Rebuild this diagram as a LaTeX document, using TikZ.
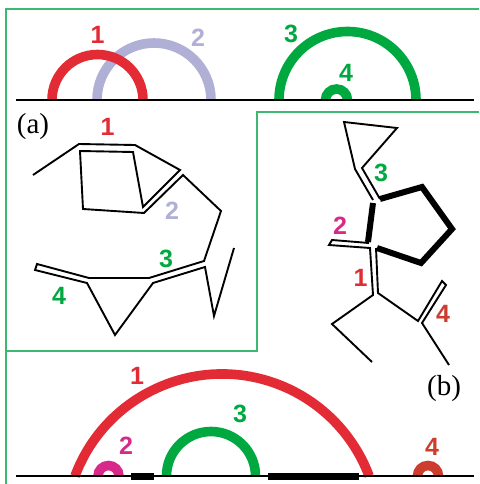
\documentclass[tikz,border=0pt]{standalone}
\usepackage{fontspec}
\setmainfont{Liberation Serif}
\newfontfamily\numfont{Liberation Sans}
\usetikzlibrary{positioning}
\definecolor{loopred}{HTML}{E32B35}
\definecolor{looplav}{HTML}{B0AFD6}
\definecolor{loopgreen}{HTML}{00A93F}
\definecolor{loopmagenta}{HTML}{D8288A}
\definecolor{loopbrown}{HTML}{CC3D2E}
\definecolor{framegreen}{HTML}{3CB870}
\tikzset{looparc/.style={line width=9.6pt},
  backbone/.style={line width=1.9pt, line join=miter},
  thickbond/.style={line width=6pt, line join=miter},
  baseline/.style={line width=1.9pt},
  framing/.style={draw=framegreen, line width=1.2pt},
  looplabel/.style={inner sep=0pt, font=\numfont\bfseries\fontsize{25}{25}\selectfont},
  panellabel/.style={inner sep=0pt, font=\fontsize{29}{29}\selectfont}}

\begin{document}
\begin{tikzpicture}[x=1pt, y=1pt]
    \useasboundingbox (0,-484) rectangle (479,0);
    \fill[white] (0,-484) rectangle (479,0);
    % frames
    \draw[framing] (479,-9) -- (6,-9) -- (6,-484);
    \draw[framing] (6,-351) -- (257,-351) -- (257,-112) -- (479,-112);
    % top arcs
    \draw[looparc, looplav] (97,-100) arc[start angle=180, end angle=0, radius=57];
    \draw[looparc, loopred] (52,-100) arc[start angle=180, end angle=0, radius=45.5];
    \draw[looparc, loopgreen] (279,-100) arc[start angle=180, end angle=0, radius=68.5];
    \draw[looparc, loopgreen] (325.5,-100) arc[start angle=180, end angle=0, radius=11];
    \coordinate (topl) at (16,-100);
    \coordinate (topr) at (474,-100);
    \draw[baseline] (topl) -- (topr);
    \node[looplabel, loopred] (t1) at (97.5,-35) {1};
    \node[looplabel, looplav] (t2) at (198,-38) {2};
    \node[looplabel, loopgreen] (t3) at (291,-34) {3};
    \node[looplabel, loopgreen] (t4) at (346,-73) {4};
    % molecule a
    \draw[backbone] (33,-175) -- (79,-144) -- (135,-145) -- (180,-170) -- (143,-207)
      -- (133,-152) -- (80,-151) -- (83,-209) -- (144,-213) -- (183,-175) -- (221,-211)
      -- (204,-261) -- (149,-278) -- (89,-278) -- (37,-264) -- (35,-270) -- (87,-283)
      -- (115,-335) -- (153,-283) -- (205,-267) -- (214,-316) -- (234,-248);
    \node[panellabel] (pa) at (33,-127) {(a)};
    \node[looplabel, loopred] (a1) at (107.5,-127) {1};
    \node[looplabel, looplav] (a2) at (172,-211) {2};
    \node[looplabel, loopgreen] (a3) at (166,-259) {3};
    \node[looplabel, loopgreen] (a4) at (59,-296) {4};
    % molecule b
    \draw[backbone] (373,-200) -- (355,-169) -- (344,-122) -- (397,-128) -- (362,-168) -- (380,-199);
    \draw[thickbond] (380,-199) -- (422,-187) -- (452,-229) -- (421,-263) -- (377,-248);
    \draw[thickbond] (373,-203) -- (368,-242);
    \draw[backbone] (369,-243) -- (332,-240) -- (329,-245) -- (370,-248) -- (373,-295)
      -- (332,-324) -- (372,-362);
    \draw[backbone] (376,-248) -- (378,-293) -- (418,-321) -- (442,-281) -- (446,-285)
      -- (422,-323) -- (449,-365);
    \node[panellabel] (pb) at (444,-389) {(b)};
    \node[looplabel, loopgreen] (b3) at (381,-173) {3};
    \node[looplabel, loopmagenta] (b2) at (340,-226) {2};
    \node[looplabel, loopred] (b1) at (360.5,-278) {1};
    \node[looplabel, loopbrown] (b4) at (443,-314) {4};
    % bottom arcs
    \draw[looparc, loopred] (75,-476) arc[start angle=159.5, end angle=20.5, radius=157];
    \draw[looparc, loopmagenta] (98,-476) arc[start angle=180, end angle=0, radius=10.5];
    \draw[looparc, loopgreen] (166.5,-476) arc[start angle=180, end angle=0, radius=44.5];
    \draw[looparc, loopbrown] (417.5,-476) arc[start angle=180, end angle=0, radius=10.5];
    \coordinate (botl) at (16,-476);
    \coordinate (botr) at (474,-476);
    \draw[baseline] (botl) -- (botr);
    \fill (131,-473) rectangle (154,-480);
    \fill (268,-473) rectangle (359,-480);
    \node[looplabel, loopred] (c1) at (137,-376) {1};
    \node[looplabel, loopmagenta] (c2) at (126,-446) {2};
    \node[looplabel, loopgreen] (c3) at (240,-414) {3};
    \node[looplabel, loopbrown] (c4) at (432,-447) {4};
\end{tikzpicture}
\end{document}
